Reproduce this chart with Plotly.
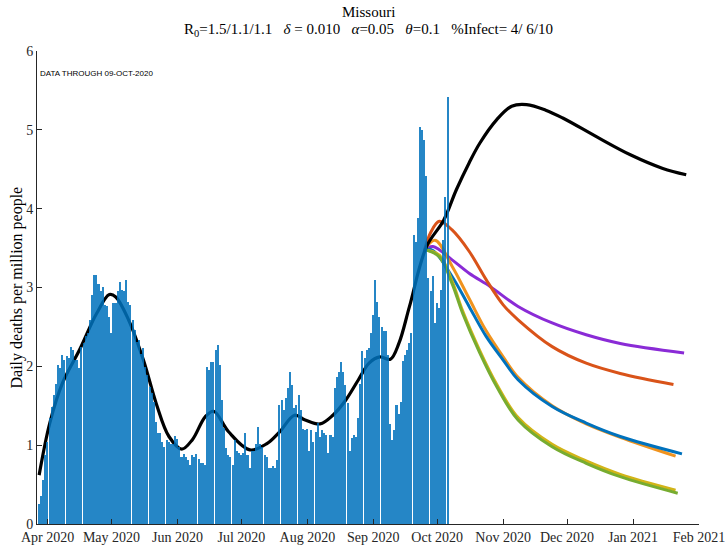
import pandas as pd
import plotly.graph_objects as go

# ---------------- data ----------------
bar_start = "2020-03-28"
daily_deaths = [
    0.26, 0.36, 0.56, 0.88, 1.04, 1.34, 1.49, 1.64, 1.78, 2.02,
    1.98, 2.14, 2.08, 2.13, 2.10, 2.25, 2.21, 2.08, 2.08, 1.98,
    2.25, 2.30, 2.39, 2.42, 2.59, 2.91, 3.16, 3.16, 3.05, 2.95,
    3.01, 2.78, 2.76, 2.63, 2.42, 2.80, 2.80, 2.95, 3.07, 2.97,
    2.95, 3.09, 2.82, 2.78, 2.59, 2.46, 2.31, 2.33, 2.16, 2.23,
    1.99, 1.89, 1.74, 1.66, 1.55, 1.30, 1.15, 1.15, 1.04, 0.98,
    1.07, 1.04, 1.02, 1.02, 1.12, 1.08, 0.98, 0.85, 0.89, 0.85,
    0.81, 0.75, 0.87, 0.85, 0.89, 0.83, 0.77, 0.77, 0.75, 1.99,
    1.95, 2.06, 2.06, 2.21, 2.27, 2.02, 1.57, 1.22, 0.96, 0.88,
    0.85, 0.75, 1.07, 0.92, 0.90, 0.88, 0.90, 1.15, 0.88, 0.71,
    0.92, 0.92, 1.02, 1.23, 1.02, 0.98, 0.88, 0.85, 0.71, 0.71,
    0.74, 0.71, 0.81, 1.51, 1.57, 1.44, 1.60, 1.72, 1.93, 1.76,
    1.47, 1.51, 1.64, 1.44, 1.21, 1.19, 1.21, 0.92, 1.19, 1.04,
    1.17, 1.28, 1.11, 1.19, 1.15, 1.13, 0.90, 1.13, 1.11, 1.72,
    1.87, 1.93, 2.06, 1.93, 1.76, 1.53, 0.92, 1.09, 1.13, 1.11,
    1.34, 1.78, 2.19, 2.10, 2.21, 2.23, 2.42, 2.65, 3.10, 2.82,
    2.62, 2.50, 2.45, 2.45, 2.14, 1.27, 1.07, 1.19, 1.51, 1.40,
    1.55, 2.07, 2.14, 2.21, 2.29, 2.42, 3.67, 3.58, 3.88, 5.04,
    5.00, 4.87, 4.41, 3.12, 2.95, 3.14, 2.55, 2.80, 2.74, 2.97,
    3.60, 4.15, 5.42,
]
bar_dates = pd.date_range(bar_start, periods=len(daily_deaths), freq="D")

fit_dates = ["2020-03-28", "2020-04-02", "2020-04-08", "2020-04-16", "2020-04-24",
             "2020-04-30", "2020-05-03", "2020-05-09", "2020-05-16", "2020-05-22",
             "2020-05-28", "2020-06-03", "2020-06-08", "2020-06-14", "2020-06-18",
             "2020-06-25", "2020-07-05", "2020-07-13", "2020-07-19", "2020-07-26",
             "2020-07-31", "2020-08-07", "2020-08-13", "2020-08-19", "2020-08-25",
             "2020-08-30", "2020-09-04", "2020-09-09", "2020-09-13", "2020-09-18",
             "2020-09-26", "2020-10-04", "2020-10-10", "2020-10-16", "2020-10-21",
             "2020-10-29", "2020-11-05", "2020-11-12", "2020-11-21", "2020-11-29",
             "2020-12-15", "2020-12-31", "2021-01-15", "2021-01-26"]
fit_values = [0.62, 1.28, 1.79, 2.21, 2.67,
              2.91, 2.88, 2.59, 2.08, 1.53,
              1.11, 0.95, 1.07, 1.36, 1.43,
              1.17, 0.94, 1.02, 1.17, 1.38,
              1.32, 1.27, 1.38, 1.57, 1.83,
              2.04, 2.12, 2.09, 2.29, 2.76,
              3.52, 3.85, 4.24, 4.58, 4.83,
              5.13, 5.30, 5.32, 5.25, 5.15,
              4.91, 4.68, 4.51, 4.43]

red_dates = ["2020-09-25", "2020-09-28", "2020-10-02", "2020-10-08", "2020-10-16",
             "2020-10-24", "2020-11-01", "2020-11-08", "2020-11-24", "2020-12-10",
             "2020-12-26", "2021-01-20"]
red_values = [3.47, 3.70, 3.84, 3.73, 3.46, 3.10, 2.78, 2.59, 2.25, 2.04, 1.91, 1.77]

purple_dates = ["2020-09-25", "2020-09-29", "2020-10-08", "2020-10-16", "2020-10-26",
                "2020-11-08", "2020-11-24", "2020-12-10", "2020-12-26", "2021-01-25"]
purple_values = [3.48, 3.52, 3.35, 3.18, 3.01, 2.76, 2.55, 2.40, 2.29, 2.17]

orange_dates = ["2020-09-25", "2020-09-30", "2020-10-08", "2020-10-16", "2020-10-24",
                "2020-11-01", "2020-11-08", "2020-11-24", "2020-12-10", "2020-12-26",
                "2021-01-21"]
orange_values = [3.48, 3.60, 3.27, 2.86, 2.45, 2.12, 1.86, 1.50, 1.27, 1.10, 0.86]

blue_dates = ["2020-09-25", "2020-09-29", "2020-10-08", "2020-10-16", "2020-10-24",
              "2020-11-01", "2020-11-08", "2020-11-24", "2020-12-10", "2020-12-26",
              "2021-01-24"]
blue_values = [3.48, 3.47, 3.14, 2.76, 2.38, 2.08, 1.83, 1.49, 1.28, 1.11, 0.89]

yellow_dates = ["2020-09-25", "2020-10-02", "2020-10-08", "2020-10-13", "2020-10-21",
                "2020-10-29", "2020-11-08", "2020-11-24", "2020-12-10", "2020-12-26",
                "2021-01-21"]
yellow_values = [3.48, 3.41, 3.08, 2.70, 2.20, 1.77, 1.35, 1.01, 0.80, 0.63, 0.43]

green_dates = ["2020-09-25", "2020-10-02", "2020-10-08", "2020-10-13", "2020-10-21",
               "2020-10-29", "2020-11-08", "2020-11-24", "2020-12-10", "2020-12-26",
               "2021-01-22"]
green_values = [3.48, 3.39, 3.05, 2.67, 2.17, 1.74, 1.32, 0.98, 0.77, 0.60, 0.39]

title_line1 = "Missouri"
sp = "\u00a0\u00a0\u00a0"
title_line2 = ("R<sub>0</sub>=1.5/1.1/1.1" + sp + "<i>δ</i> = 0.010" + sp + "<i>α</i>=0.05"
               + sp + "<i>θ</i>=0.1" + sp + "%Infect= 4/ 6/10")
y_label = "Daily deaths per million people"
data_note = "DATA THROUGH 09-OCT-2020"

# ---------------- figure ----------------
fig = go.Figure()

def add_line(x, y, color, width=3):
    fig.add_trace(go.Scatter(x=x, y=y, mode="lines",
                             line=dict(color=color, width=width, shape="spline", smoothing=1.0),
                             hoverinfo="skip", showlegend=False, xaxis="x", yaxis="y"))

add_line(purple_dates, purple_values, "#8A2BD6")
add_line(red_dates, red_values, "#D95319")
add_line(orange_dates, orange_values, "#F0931E")
add_line(blue_dates, blue_values, "#0072BD")
add_line(yellow_dates, yellow_values, "#D2B418")
add_line(green_dates, green_values, "#77AC30")
add_line(fit_dates, fit_values, "#000000", 3.2)

fig.add_trace(go.Bar(x=bar_dates, y=daily_deaths, marker=dict(color="#0072BD", line=dict(width=0)),
                     opacity=0.85, width=0.72 * 86400000, xaxis="x2", yaxis="y2",
                     hoverinfo="skip", showlegend=False))

xr = ["2020-03-27", "2021-02-01"]
yr = [0, 6]
serif = "Liberation Serif, Times New Roman, serif"
tickfont = dict(family=serif, size=14, color="#262626")

fig.update_layout(
    width=727, height=545,
    margin=dict(l=37, r=28, t=51, b=21, autoexpand=False),
    paper_bgcolor="white", plot_bgcolor="white",
    bargap=0,
    xaxis=dict(range=xr, type="date", dtick="M1", tick0="2020-04-01", tickformat="%b %Y",
               ticks="inside", ticklen=5, tickcolor="#262626", showline=True, linecolor="#262626",
               linewidth=1, showgrid=False, zeroline=False, tickfont=tickfont, mirror=False,
               automargin=False),
    yaxis=dict(range=yr, dtick=1, ticks="inside", ticklen=5, tickcolor="#262626", showline=True,
               linecolor="#262626", linewidth=1, showgrid=False, zeroline=False, tickfont=tickfont,
               automargin=False),
    xaxis2=dict(range=xr, type="date", overlaying="x", visible=False, matches="x"),
    yaxis2=dict(range=yr, overlaying="y", visible=False, matches="y"),
    annotations=[
        dict(text=title_line1, xref="paper", yref="paper", x=0.5, y=1 + 39 / 473,
             xanchor="center", yanchor="middle", showarrow=False,
             font=dict(family=serif, size=15, color="#000")),
        dict(text=title_line2, xref="paper", yref="paper", x=0.5, y=1 + 21 / 473,
             xanchor="center", yanchor="middle", showarrow=False,
             font=dict(family=serif, size=15, color="#000")),
        dict(text=data_note, xref="paper", yref="y", x=0.002, y=5.71, xanchor="left", yanchor="middle",
             showarrow=False, font=dict(family="Liberation Sans, Arial, sans-serif", size=8, color="#000")),
        dict(text=y_label, xref="paper", yref="paper", x=-21 / 662, y=0.5, textangle=-90,
             xanchor="center", yanchor="middle", showarrow=False,
             font=dict(family=serif, size=16, color="#000")),
    ],
)

fig.write_html("out.html", config={"displayModeBar": False},
               post_script="document.body.style.margin='0px';document.body.style.overflow='hidden';")
